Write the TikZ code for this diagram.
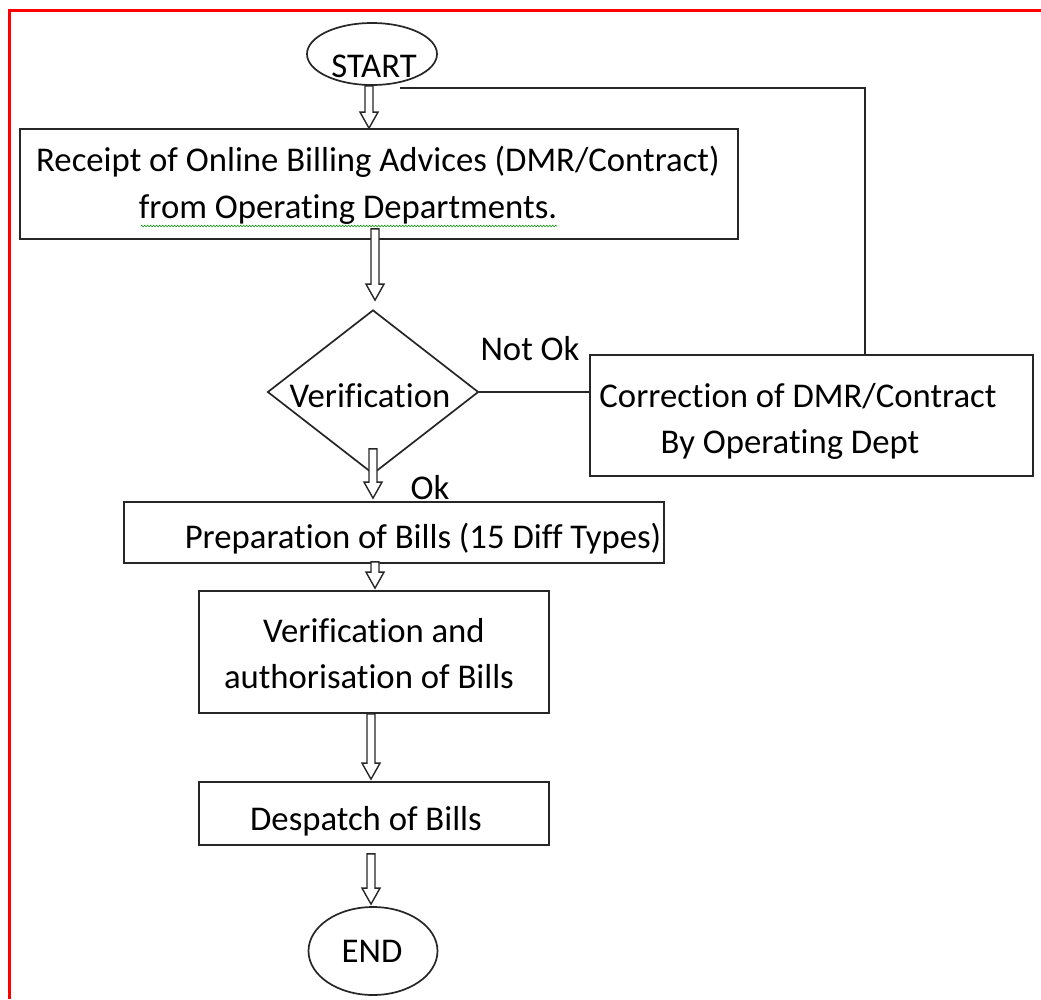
\documentclass[tikz,border=0pt]{standalone}
\usepackage{fontspec}
\setmainfont{Carlito}[Ligatures={NoCommon}]
\usetikzlibrary{shapes.geometric,calc,decorations.pathmorphing}
\tikzset{
  shapeline/.style={draw=black!85, line width=1.7pt, inner sep=0pt},
  boxnode/.style={shapeline, rectangle},
  ovalnode/.style={shapeline, ellipse},
  decnode/.style={shapeline, diamond},
  txt/.style={font=\fontsize{34.7}{46}\selectfont, anchor=base, inner sep=0pt},
  link/.style={draw=black!85, line width=1.7pt},
  hollowarrow/.style={draw=black!85, fill=white, line width=1.4pt, line join=miter},
  frameline/.style={draw=red, line width=3pt},
  squiggle/.style={draw=green!55!black, line width=0.5pt, decorate,
    decoration={snake, amplitude=0.9pt, segment length=3pt}}
}
\newcommand{\hollowdown}[2]{%
  \path[hollowarrow] let \p1=(#1), \p2=(#2) in
    (\x1-4pt,\y1) -- (\x1-4pt,\y2+16pt) -- (\x1-9pt,\y2+16pt) -- (\x1,\y2)
    -- (\x1+9pt,\y2+16pt) -- (\x1+4pt,\y2+16pt) -- (\x1+4pt,\y1) -- cycle;}
\begin{document}
\begin{tikzpicture}[x=1pt,y=-1pt]
\useasboundingbox (0,0) rectangle (1041,999);
% red frame
\draw[frameline] (9.5,999) -- (9.5,10.5) -- (1041,10.5);

% shapes
\node[ovalnode, minimum width=130pt, minimum height=62pt] (start) at (372,54) {};
\node[boxnode, minimum width=718pt, minimum height=110pt] (box1) at (379,184) {};
\node[decnode, minimum width=211pt, minimum height=164pt] (dec) at (373,392) {};
\node[boxnode, minimum width=443pt, minimum height=121pt] (corr) at (811.5,415.5) {};
\node[boxnode, minimum width=540pt, minimum height=61pt] (box3) at (394,532.5) {};
\node[boxnode, minimum width=350pt, minimum height=122pt] (box4) at (374,652) {};
\node[boxnode, minimum width=350pt, minimum height=63pt] (box5) at (374,813.5) {};
\node[ovalnode, minimum width=129pt, minimum height=88pt] (endn) at (373,951) {};

% texts
\node[txt] (tstart) at (374,77) {START};
\node[txt] (t1a) at (378,171) {Receipt of Online Billing Advices (DMR/Contract)};
\node[txt] (t1b) at (348,218) {from Operating Departments.};
\node[txt] (tdec) at (370,407) {Verification};
\node[txt] (tcorra) at (798,407) {Correction of DMR/Contract};
\node[txt] (tcorrb) at (790,453) {By Operating Dept};
\node[txt] (t3) at (423,548) {Preparation of Bills (15 Diff Types)};
\node[txt] (t4a) at (374,642) {Verification and};
\node[txt] (t4b) at (369,688) {authorisation of Bills};
\node[txt] (t5) at (366,830) {Despatch of Bills};
\node[txt] (tend) at (372,962) {END};
\node[txt] (tnotok) at (530,360) {Not Ok};
\node[txt] (tok) at (430,499) {Ok};

% spell-check squiggle
\draw[squiggle] ($(t1b.base west)+(2,8)$) -- ($(t1b.base east)+(0,8)$);

% connectors
\coordinate (fbx) at (865,0);
\coordinate (fbend) at (400,88);
\draw[link] (fbx |- corr.north) -- (fbx |- fbend) -- (fbend);
\draw[link] (dec.east) -- (corr.west |- dec.east);

% hollow arrows
\hollowdown{$(start.south)+(-3,0)$}{$(box1.north)+(-11,0)$}
\hollowdown{$(box1.south)+(-4,-11)$}{$(dec.north)+(2,-9)$}
\hollowdown{$(dec.south)+(0,-26)$}{$(box3.north)+(-21,-3)$}
\hollowdown{$(box3.south)+(-19,-2)$}{$(box4.north)+(1,-2)$}
\hollowdown{$(box4.south)+(-3,0)$}{$(box5.north)+(-3,-2)$}
\hollowdown{$(box5.south)+(-3,8)$}{$(endn.north)+(-2,-2)$}
\end{tikzpicture}
\end{document}
